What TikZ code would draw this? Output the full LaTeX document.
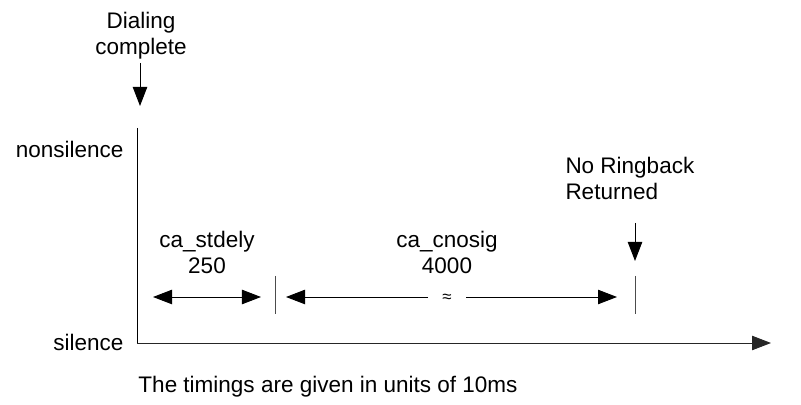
\documentclass[tikz,border=0pt]{standalone}
\usepackage{fontspec}
\setmainfont{Liberation Sans}
\usetikzlibrary{arrows.meta}

\begin{document}
\begin{tikzpicture}[x=0.025cm, y=-0.025cm, line width=0.7pt,
    every node/.style={font=\fontsize{16}{18.5}\selectfont, inner sep=0pt},
    tip/.style={-{Triangle[length=0.475cm, width=0.36cm]}},
    twotip/.style={{Triangle[length=0.475cm, width=0.36cm]}-{Triangle[length=0.475cm, width=0.36cm]}}]
  \useasboundingbox (0,0) rectangle (801,405);
  % event markers
  \node[align=center] (dial) at (141,36) {Dialing\\complete};
  \coordinate (dialtip) at (140,106);
  \draw[tip] (140,63) -- (dialtip);
  \node[align=left, anchor=west] (noring) at (565,178) {No Ringback\\Returned};
  \coordinate (ringtip) at (635,261);
  \draw[tip] (635,223) -- (ringtip);
  % axes
  \coordinate (origin) at (137,343);
  \coordinate (ytop) at (137,128);
  \coordinate (xend) at (771,343);
  \draw (ytop) -- (origin);
  \draw[tip, draw=black!85] (origin) -- (xend);
  \node[anchor=east] (nonsil) at (124,149) {nonsilence};
  \node[anchor=east] (sil) at (124,342) {silence};
  % interval ticks
  \foreach \x/\n in {275/ta, 635/tb}
    \draw[black!70] (\x,276) coordinate (\n) -- (\x,314);
  % timers
  \node[align=center] (stdely) at (207,252) {ca\_stdely\\250};
  \coordinate (sa) at (153,297);
  \coordinate (sb) at (261,297);
  \draw[twotip] (sa) -- (sb);
  \node[align=center] (cnosig) at (447,252) {ca\_cnosig\\4000};
  \node[minimum width=0.925cm, font=\fontsize{12}{12}\selectfont] (gap) at (447,298) {≈};
  \coordinate (ca) at (286,297);
  \coordinate (cb) at (617,297);
  \draw[tip] (gap.west |- ca) -- (ca);
  \draw[tip] (gap.east |- cb) -- (cb);
  \node[anchor=base west] (note) at (138,392) {The timings are given in units of 10ms};
\end{tikzpicture}
\end{document}
